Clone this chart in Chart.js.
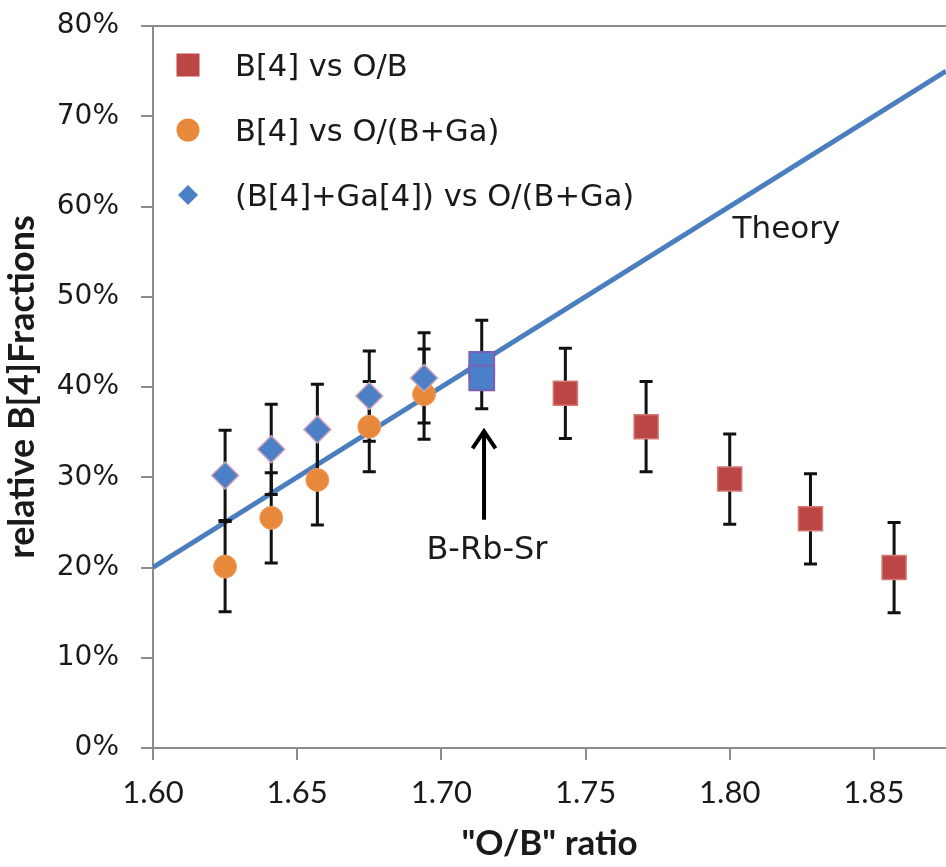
<!DOCTYPE html>
<html>
<head>
<meta charset="utf-8">
<script src="https://cdn.jsdelivr.net/npm/chart.js@4.4.1/dist/chart.umd.min.js"></script>
<style>
  html, body { margin: 0; padding: 0; background: #fff; }
  #wrap { width: 946px; height: 867px; }
</style>
</head>
<body>
<div id="wrap"><canvas id="chart" width="946" height="867"></canvas></div>
<script>
/* ── Data ── */
const GA_RATIO   = [1.625, 1.641, 1.657, 1.675, 1.694];   // O/(B+Ga)
const B4_GA      = [20.1, 25.5, 29.7, 35.6, 39.2];        // B[4] vs O/(B+Ga)
const B4_GA_ERR  = [5, 5, 5, 5, 5];
const B4GA4_GA   = [30.2, 33.1, 35.3, 39.0, 41.0];        // (B[4]+Ga[4]) vs O/(B+Ga)
const B4GA4_ERR  = [5, 5, 5, 5, 5];
const OB_RATIO   = [1.743, 1.771, 1.800, 1.828, 1.857];   // O/B
const B4_OB      = [39.3, 35.6, 29.8, 25.4, 20.0];
const B4_OB_ERR  = [5, 5, 5, 5, 5];
const RBSR_RATIO = [1.714, 1.714];                         // B-Rb-Sr glass
const RBSR_B4    = [42.5, 41.0];
const RBSR_ERR   = [4.9, 0];
const THEORY_X   = [1.60, 1.875];
const THEORY_Y   = [20, 75];
const X_TICKS    = [1.60, 1.65, 1.70, 1.75, 1.80, 1.85];
const Y_TICKS    = [0, 10, 20, 30, 40, 50, 60, 70, 80];

/* ── Annotations (data coords) ── */
const THEORY_LABEL = { x: 1.801, y: 56.5, text: 'Theory' };
const RBSR_LABEL   = { x: 1.7158, y: 20.9, text: 'B-Rb-Sr' };
const RBSR_ARROW   = { x: 1.7148, from: 25.3, to: 35.2 };

const AXIS = '#8c8c8c';
const TXT  = '#1a1a1a';
const VERDANA = '"DejaVu Sans", Verdana, sans-serif';
const CALIBRI = 'Lato, "Open Sans", sans-serif';

const pts = (xs, ys) => xs.map((x, i) => ({ x, y: ys[i] }));

/* ── Plugins ── */
const errorBars = {
  id: 'errorBars',
  afterDatasetDraw(chart, args) {
    if (args.index !== 0) return;            // right after the theory line
    const { ctx, scales: { x, y } } = chart;
    ctx.save();
    ctx.strokeStyle = '#111';
    ctx.lineWidth = 3;
    chart.data.datasets.forEach(ds => {
      if (!ds.errors) return;
      ds.data.forEach((p, i) => {
        const e = ds.errors[i];
        if (!e) return;
        const px = x.getPixelForValue(p.x);
        const t = y.getPixelForValue(p.y + e), b = y.getPixelForValue(p.y - e);
        ctx.beginPath();
        ctx.moveTo(px, t); ctx.lineTo(px, b);
        ctx.moveTo(px - 6.5, t); ctx.lineTo(px + 6.5, t);
        ctx.moveTo(px - 6.5, b); ctx.lineTo(px + 6.5, b);
        ctx.stroke();
      });
    });
    ctx.restore();
  }
};

const notes = {
  id: 'notes',
  afterDatasetsDraw(chart) {
    const { ctx, scales: { x, y } } = chart;
    ctx.save();
    ctx.fillStyle = TXT;
    ctx.textBaseline = 'alphabetic';
    ctx.font = '31px ' + VERDANA;
    ctx.textAlign = 'left';
    ctx.fillText(THEORY_LABEL.text, x.getPixelForValue(THEORY_LABEL.x), y.getPixelForValue(THEORY_LABEL.y));
    ctx.font = '32px ' + VERDANA;
    ctx.textAlign = 'center';
    ctx.fillText(RBSR_LABEL.text, x.getPixelForValue(RBSR_LABEL.x), y.getPixelForValue(RBSR_LABEL.y));

    // arrow
    const ax = x.getPixelForValue(RBSR_ARROW.x);
    const tip = y.getPixelForValue(RBSR_ARROW.to), tail = y.getPixelForValue(RBSR_ARROW.from);
    ctx.strokeStyle = '#000';
    ctx.lineWidth = 4;
    ctx.beginPath();
    ctx.moveTo(ax, tail); ctx.lineTo(ax, tip + 1);
    ctx.moveTo(ax - 11.5, tip + 18); ctx.lineTo(ax, tip + 1); ctx.lineTo(ax + 11.5, tip + 18);
    ctx.stroke();
    ctx.restore();
  }
};

const legendBox = {
  id: 'legendBox',
  afterDraw(chart) {
    const { ctx, chartArea: a } = chart;
    ctx.save();
    // top frame line
    ctx.strokeStyle = AXIS; ctx.lineWidth = 2;
    ctx.beginPath(); ctx.moveTo(a.left, a.top); ctx.lineTo(a.right, a.top); ctx.stroke();

    ctx.font = '30.5px ' + VERDANA;
    ctx.textBaseline = 'alphabetic';
    ctx.textAlign = 'left';
    chart.data.datasets.filter(d => d.inLegend).forEach((ds, row) => {
      const cx = a.left + 35, cy = a.top + 39 + row * 65;
      ctx.fillStyle = ds.backgroundColor;
      ctx.beginPath();
      if (ds.pointStyle === 'rect') ctx.rect(cx - 11.5, cy - 11.5, 23, 23);
      else if (ds.pointStyle === 'circle') ctx.arc(cx, cy, 11.5, 0, Math.PI * 2);
      else { ctx.moveTo(cx, cy - 10); ctx.lineTo(cx + 10, cy); ctx.lineTo(cx, cy + 10); ctx.lineTo(cx - 10, cy); ctx.closePath(); }
      ctx.fill();
      ctx.fillStyle = TXT;
      ctx.fillText(ds.label, a.left + 82, cy + 11);
    });
    ctx.restore();
  }
};

/* ── Chart ── */
new Chart(document.getElementById('chart'), {
  type: 'scatter',
  data: {
    datasets: [
      {
        label: 'Theory', data: pts(THEORY_X, THEORY_Y), showLine: true,
        borderColor: '#4a7ebf', borderWidth: 5, pointRadius: 0, order: 10
      },
      {
        label: 'B[4] vs O/B', data: pts(OB_RATIO, B4_OB), errors: B4_OB_ERR, inLegend: true,
        pointStyle: 'rect', pointRadius: 17, backgroundColor: '#bc4643', borderColor: '#d37a77', borderWidth: 1.5, order: 4
      },
      {
        label: 'B[4] vs O/(B+Ga)', data: pts(GA_RATIO, B4_GA), errors: B4_GA_ERR, inLegend: true,
        pointStyle: 'circle', pointRadius: 11.5, backgroundColor: '#e8883a', borderColor: '#eea067', borderWidth: 1, order: 3
      },
      {
        label: '(B[4]+Ga[4]) vs O/(B+Ga)', data: pts(GA_RATIO, B4GA4_GA), errors: B4GA4_ERR, inLegend: true,
        pointStyle: 'rectRot', pointRadius: 13.5, backgroundColor: '#4b80c6', borderColor: '#d2a2b6', borderWidth: 1.5, order: 2
      },
      {
        label: 'B-Rb-Sr', data: pts(RBSR_RATIO, RBSR_B4), errors: RBSR_ERR,
        pointStyle: 'rect', pointRadius: 17.5, backgroundColor: '#4a7fc9', borderColor: '#7b60b2', borderWidth: 2, order: 1
      }
    ]
  },
  options: {
    responsive: false,
    devicePixelRatio: 1,
    animation: false,
    layout: { autoPadding: false, padding: { top: 26, right: 0, left: 0, bottom: 0 } },
    plugins: { legend: { display: false }, tooltip: { enabled: false } },
    scales: {
      x: {
        type: 'linear', min: 1.6, max: 1.875,
        afterBuildTicks: s => { s.ticks = X_TICKS.map(v => ({ value: v })); },
        afterFit: s => { s.height = 119; s.paddingLeft = 0; s.paddingRight = 0; },
        ticks: { callback: v => v.toFixed(2), autoSkip: false, maxRotation: 0, padding: 14, color: TXT, font: { family: CALIBRI, size: 31 } },
        grid: { drawOnChartArea: false, drawTicks: true, tickLength: 12, color: AXIS, lineWidth: 2 },
        border: { color: AXIS, width: 2 },
        title: { display: true, text: '"O/B" ratio', color: TXT, font: { family: CALIBRI, size: 35, weight: 'bold' }, padding: { top: 0, bottom: 2 } }
      },
      y: {
        min: 0, max: 80,
        afterBuildTicks: s => { s.ticks = Y_TICKS.map(v => ({ value: v })); },
        afterFit: s => { s.width = 153; s.paddingTop = 0; s.paddingBottom = 0; },
        ticks: { callback: v => v + '%', autoSkip: false, padding: 22, color: TXT, font: { family: VERDANA, size: 28 } },
        grid: { drawOnChartArea: false, drawTicks: true, tickLength: 12, color: AXIS, lineWidth: 2 },
        border: { color: AXIS, width: 2 },
        title: { display: true, text: 'relative B[4]Fractions', color: TXT, font: { family: CALIBRI, size: 36, weight: 'bold' }, padding: { top: 1, bottom: 0 } }
      }
    }
  },
  plugins: [errorBars, notes, legendBox]
});
</script>
</body>
</html>
